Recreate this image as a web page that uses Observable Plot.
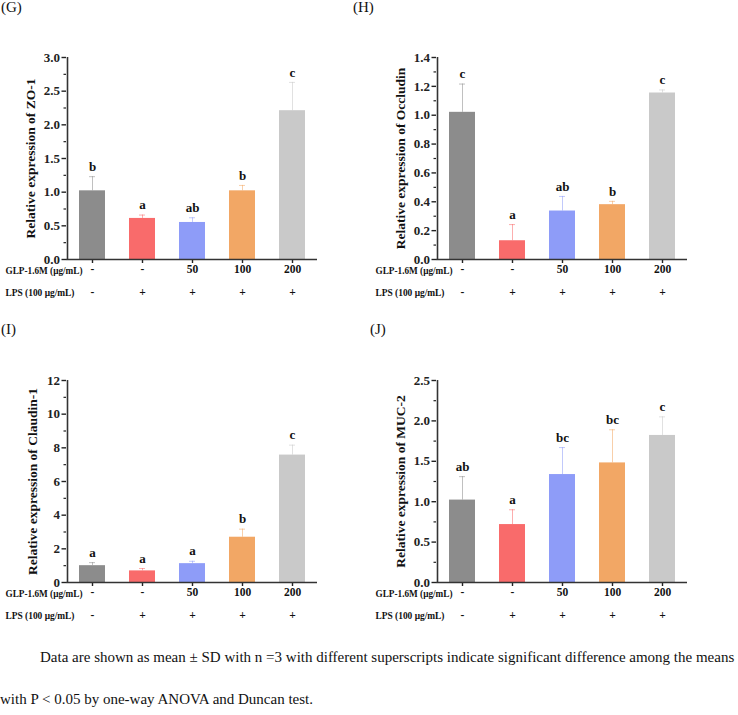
<!DOCTYPE html>
<html>
<head>
<meta charset="utf-8">
<script src="https://cdn.jsdelivr.net/npm/d3@7"></script>
<script src="https://cdn.jsdelivr.net/npm/@observablehq/plot@0.6"></script>
<style>
  body { margin: 0; background: #fff; }
  #root { position: relative; width: 738px; height: 715px; overflow: hidden; font-family: "Liberation Serif", "Times New Roman", "DejaVu Serif", serif; }
  .panel { position: absolute; }
  .plabel { position: absolute; font-size: 15px; color: #111; }
  .caption { position: absolute; font-size: 15px; color: #111; white-space: nowrap; }
</style>
</head>
<body>
<div id="root"></div>
<script>
// ---- data ----
const groups = ["g1", "g2", "g3", "g4", "g5"];
const glpLabels = ["-", "-", "50", "100", "200"];
const lpsLabels = ["-", "+", "+", "+", "+"];
const barColors = ["#8c8c8c", "#f96b6b", "#8e9cf8", "#f2a765", "#c9c9c9"];

const zo1Mean = [1.02, 0.61, 0.55, 1.02, 2.21];
const zo1Upper = [1.23, 0.66, 0.62, 1.10, 2.63];
const zo1Letters = ["b", "a", "ab", "b", "c"];

const occMean = [1.02, 0.13, 0.336, 0.38, 1.154];
const occUpper = [1.216, 0.242, 0.437, 0.403, 1.175];
const occLetters = ["c", "a", "ab", "b", "c"];

const cldMean = [1.0, 0.69, 1.12, 2.69, 7.57];
const cldUpper = [1.18, 0.83, 1.26, 3.17, 8.16];
const cldLetters = ["a", "a", "a", "b", "c"];

const mucMean = [1.02, 0.717, 1.336, 1.48, 1.82];
const mucUpper = [1.31, 0.90, 1.67, 1.89, 2.05];
const mucLetters = ["ab", "a", "bc", "bc", "c"];

const glpRowLabel = "GLP-1.6M (μg/mL)";
const lpsRowLabel = "LPS (100 μg/mL)";

const serif = "'Liberation Serif', 'Times New Roman', 'DejaVu Serif', serif";

function makePanel({mean, upper, letters, yMax, major, minor, fmt, ylabel, labelDx}) {
  const data = groups.map((g, i) => ({
    g, mean: mean[i], upper: upper[i], letter: letters[i],
    glp: glpLabels[i], lps: lpsLabels[i], color: barColors[i]
  }));
  const svg = Plot.plot({
    width: 368, height: 320,
    marginLeft: 66, marginRight: 51, marginTop: 57, marginBottom: 61,
    style: {fontFamily: serif, fontWeight: "bold", fontSize: "13px", color: "#222", background: "transparent"},
    x: {domain: groups, paddingInner: 0.48, paddingOuter: 0.24},
    y: {domain: [0, yMax]},
    color: {type: "identity"},
    marks: [
      Plot.barY(data, {x: "g", y: "mean", fill: "color"}),
      Plot.ruleX(data, {x: "g", y1: "mean", y2: "upper", stroke: "color", strokeOpacity: 0.55, strokeWidth: 1}),
      Plot.tickY(data, {x: "g", y: "upper", stroke: "color", strokeOpacity: 0.55, insetLeft: 10, insetRight: 10}),
      Plot.text(data, {x: "g", y: "upper", text: "letter", dy: -10, fontSize: 13, fill: "#111"}),
      Plot.axisY({ticks: minor, tickSize: 2.5, tickFormat: () => "", strokeWidth: 1.2, label: null}),
      Plot.axisY({ticks: major, tickSize: 4.5, tickPadding: 2, tickFormat: fmt, strokeWidth: 1.4, label: null, fontSize: 13, fill: "#222"}),
      Plot.axisX({tickSize: 4, tickFormat: () => "", strokeWidth: 1.4, label: null}),
      // axis lines
      Plot.ruleY([0], {stroke: "#333", strokeWidth: 1.6}),
      Plot.ruleX(data.slice(0, 1), {x: "g", dx: -25, stroke: "#333", strokeWidth: 1.6}),
      Plot.text(data, {x: "g", text: "glp", frameAnchor: "bottom", dy: 13.5, fontSize: 11.5, fill: "#111"}),
      Plot.text(data, {x: "g", text: "lps", frameAnchor: "bottom", dy: 36, fontSize: 11.5, fill: "#111"}),
      Plot.text([glpRowLabel], {text: d => d, frameAnchor: "bottom-left", textAnchor: "start", dx: -61, dy: 14.5, fontSize: 9.5, fill: "#111"}),
      Plot.text([lpsRowLabel], {text: d => d, frameAnchor: "bottom-left", textAnchor: "start", dx: -61, dy: 36, fontSize: 9.5, fill: "#111"}),
      Plot.text([ylabel], {text: d => d, frameAnchor: "left", textAnchor: "middle", rotate: -90, dx: labelDx, fontSize: 13.5, fill: "#111"})
    ]
  });
  // fit the condensed row labels to the reference width
  d3.select(svg).selectAll("text").each(function() {
    const t = this.textContent;
    if (t === glpRowLabel) d3.select(this).attr("textLength", 77).attr("lengthAdjust", "spacingAndGlyphs");
    if (t === lpsRowLabel) d3.select(this).attr("textLength", 69).attr("lengthAdjust", "spacingAndGlyphs");
  });
  return svg;
}

const root = document.getElementById("root");
function place(node, left, top) {
  const d = document.createElement("div");
  d.className = "panel";
  d.style.left = left + "px";
  d.style.top = top + "px";
  d.appendChild(node);
  root.appendChild(d);
}
function label(text, left, top) {
  const d = document.createElement("div");
  d.className = "plabel";
  d.style.left = left + "px";
  d.style.top = top + "px";
  d.textContent = text;
  root.appendChild(d);
}

const f1 = d3.format(".1f");
const fi = d3.format("d");

place(makePanel({mean: zo1Mean, upper: zo1Upper, letters: zo1Letters, yMax: 3.0,
  major: d3.range(0, 3.01, 0.5), minor: d3.range(0.25, 3, 0.5), fmt: f1,
  ylabel: "Relative expression of ZO-1", labelDx: -36}), 0, 0);
place(makePanel({mean: occMean, upper: occUpper, letters: occLetters, yMax: 1.4,
  major: d3.range(0, 1.401, 0.2), minor: d3.range(0.1, 1.4, 0.2), fmt: f1,
  ylabel: "Relative expression of Occludin", labelDx: -36}), 370, 0);
place(makePanel({mean: cldMean, upper: cldUpper, letters: cldLetters, yMax: 12,
  major: d3.range(0, 12.01, 2), minor: d3.range(1, 12, 2), fmt: fi,
  ylabel: "Relative expression of Claudin-1", labelDx: -34}), 0, 323);
place(makePanel({mean: mucMean, upper: mucUpper, letters: mucLetters, yMax: 2.5,
  major: d3.range(0, 2.501, 0.5), minor: d3.range(0.25, 2.5, 0.5), fmt: f1,
  ylabel: "Relative expression of MUC-2", labelDx: -36}), 370, 323);

label("(G)", 1, -1);
label("(H)", 353, -1);
label("(I)", 1, 321);
label("(J)", 370, 321);

const cap1 = document.createElement("div");
cap1.className = "caption";
cap1.style.left = "40px"; cap1.style.top = "649px";
cap1.textContent = "Data are shown as mean ± SD with n =3 with different superscripts indicate significant difference among the means";
root.appendChild(cap1);
const cap2 = document.createElement("div");
cap2.className = "caption";
cap2.style.left = "0px"; cap2.style.top = "691px";
cap2.textContent = "with P < 0.05  by one-way ANOVA  and Duncan test.";
root.appendChild(cap2);
</script>
</body>
</html>
